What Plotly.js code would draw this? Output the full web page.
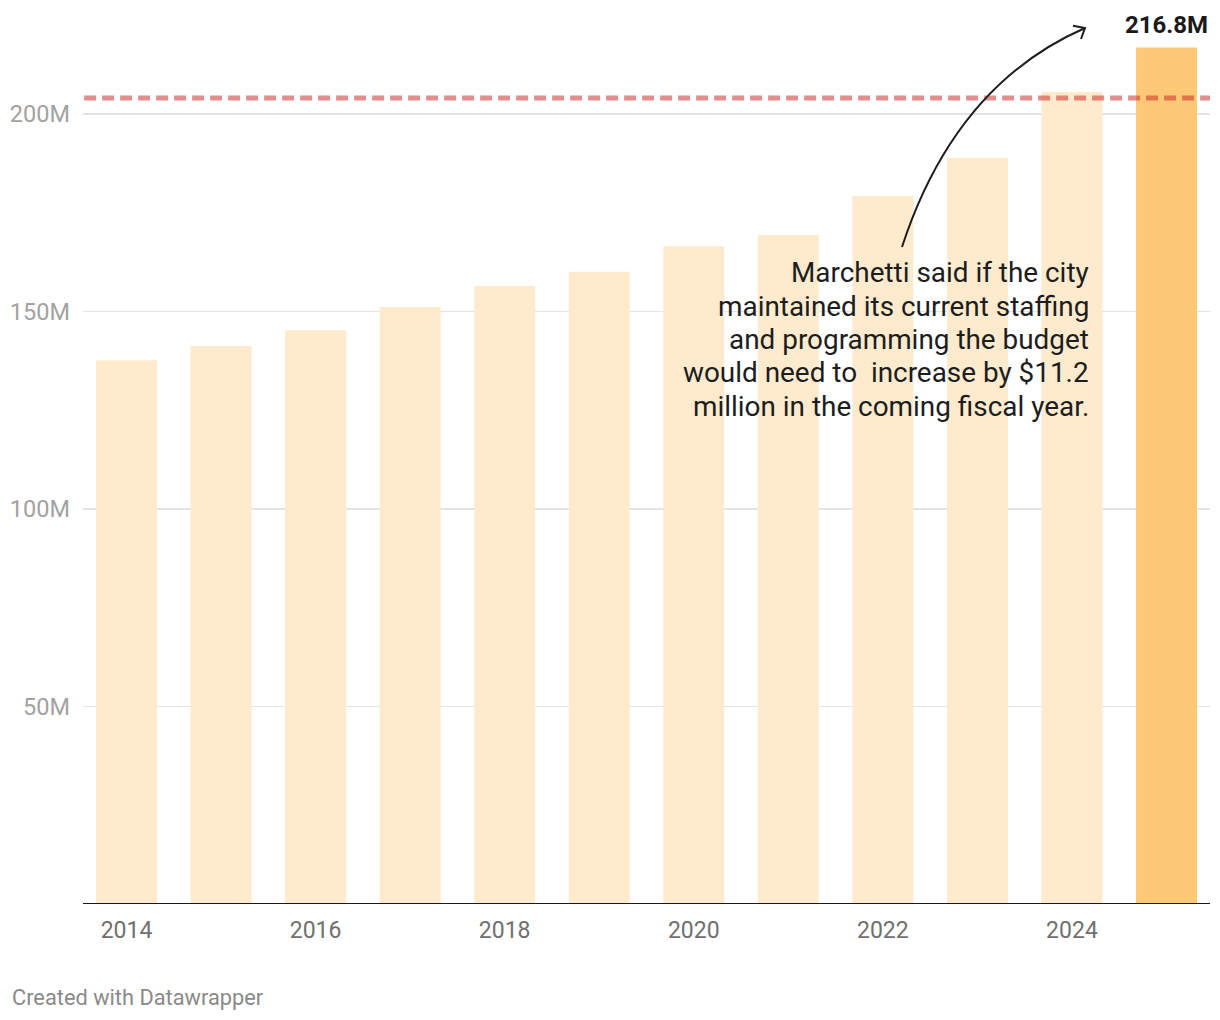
<!DOCTYPE html>
<html>
<head>
<meta charset="utf-8">
<script src="https://cdn.plot.ly/plotly-3.0.1.min.js"></script>
<style>
  html, body { margin: 0; padding: 0; background: #ffffff; }
  #chart { width: 1220px; height: 1020px; }
</style>
</head>
<body>
<div id="chart"></div>
<script>
// ---- data ----
const years = [2014, 2015, 2016, 2017, 2018, 2019, 2020, 2021, 2022, 2023, 2024, 2025];
const budgetM = [137.6, 141.2, 145.2, 151.1, 156.4, 160.0, 166.5, 169.3, 179.2, 188.9, 205.5, 216.8];
const referenceLineM = 204;
const yTickVals = [50, 100, 150, 200];
const yTickText = ['50M', '100M', '150M', '200M'];
const xTickVals = [2014, 2016, 2018, 2020, 2022, 2024];
const noteLines = [
  'Marchetti said if the city',
  'maintained its current staffing',
  'and programming the budget',
  'would need to&nbsp; increase by $11.2',
  'million in the coming fiscal year.'
];

// ---- styling ----
const FONT = 'Roboto, "Noto Sans", Arial, sans-serif';
const lastIdx = years.length - 1;
const barColors = years.map((y, i) => i === lastIdx ? '#fec977' : '#feebcd');

const trace = {
  type: 'bar',
  x: years,
  y: budgetM,
  marker: { color: barColors, line: { width: 0 } },
  hoverinfo: 'x+y',
  showlegend: false
};

// pixel -> paper helpers (plot area: x 83..1210, y 15..904)
const px = p => (p - 83) / 1127;
const py = p => (904 - p) / 889;

const noteAnnotations = noteLines.map((line, i) => ({
  x: px(1091), y: py(273 + i * 33.3), xref: 'paper', yref: 'paper',
  text: line, showarrow: false, xanchor: 'right', yanchor: 'middle', align: 'right',
  font: { family: FONT, size: 27.9, color: '#1d1d1d' }
}));

const layout = {
  width: 1220,
  height: 1020,
  margin: { l: 83, r: 10, t: 15, b: 116, pad: 0 },
  paper_bgcolor: '#ffffff',
  plot_bgcolor: '#ffffff',
  bargap: 0.355,
  font: { family: FONT },
  xaxis: {
    range: [2013.54, 2025.46],
    tickvals: xTickVals,
    ticktext: xTickVals.map(String),
    showgrid: false,
    zeroline: false,
    showline: false,
    ticks: '',
    ticklabelstandoff: 10,
    tickfont: { family: FONT, size: 23, color: '#707070' },
    fixedrange: true
  },
  yaxis: {
    range: [0, 225],
    tickvals: yTickVals,
    ticktext: yTickText,
    showgrid: true,
    gridcolor: '#e4e4e4',
    gridwidth: 1.6,
    zeroline: false,
    showline: false,
    ticks: '',
    ticklabelstandoff: 12,
    tickfont: { family: FONT, size: 23.5, color: '#a2a2a2' },
    fixedrange: true
  },
  shapes: [
    // baseline
    { type: 'line', xref: 'paper', yref: 'y', x0: 0, x1: 1, y0: 0, y1: 0,
      line: { color: '#1a1a1a', width: 2 }, layer: 'above' },
    // reference dashed line
    { type: 'line', xref: 'paper', yref: 'y', x0: 0.001, x1: 1, y0: referenceLineM, y1: referenceLineM,
      line: { color: 'rgba(199,30,29,0.5)', width: 5, dash: '12px,6px' }, layer: 'above' },
    // curved arrow
    { type: 'path', xref: 'paper', yref: 'paper',
      path: 'M 0.7267 0.7390 Q 0.7737 0.9213 0.8891 0.9854',
      line: { color: '#1d1d1d', width: 2 }, layer: 'above' },
    { type: 'path', xref: 'paper', yref: 'paper',
      path: 'M 0.8784 0.9880 L 0.8891 0.9854 L 0.8855 0.9730',
      line: { color: '#1d1d1d', width: 2 }, layer: 'above' }
  ],
  annotations: [
    { x: years[lastIdx], y: budgetM[lastIdx], xref: 'x', yref: 'y',
      text: '<b>' + budgetM[lastIdx].toFixed(1) + 'M</b>',
      showarrow: false, xanchor: 'center', yanchor: 'middle', yshift: 22,
      font: { family: FONT, size: 24, color: '#1a1a1a' } },
    ...noteAnnotations,
    { x: px(10), y: py(997), xref: 'paper', yref: 'paper',
      text: 'Created with Datawrapper',
      showarrow: false, xanchor: 'left', yanchor: 'middle', align: 'left',
      font: { family: FONT, size: 21.8, color: '#8a8a8a' } }
  ]
};

Plotly.newPlot('chart', [trace], layout, { displayModeBar: false, staticPlot: true });
</script>
</body>
</html>
